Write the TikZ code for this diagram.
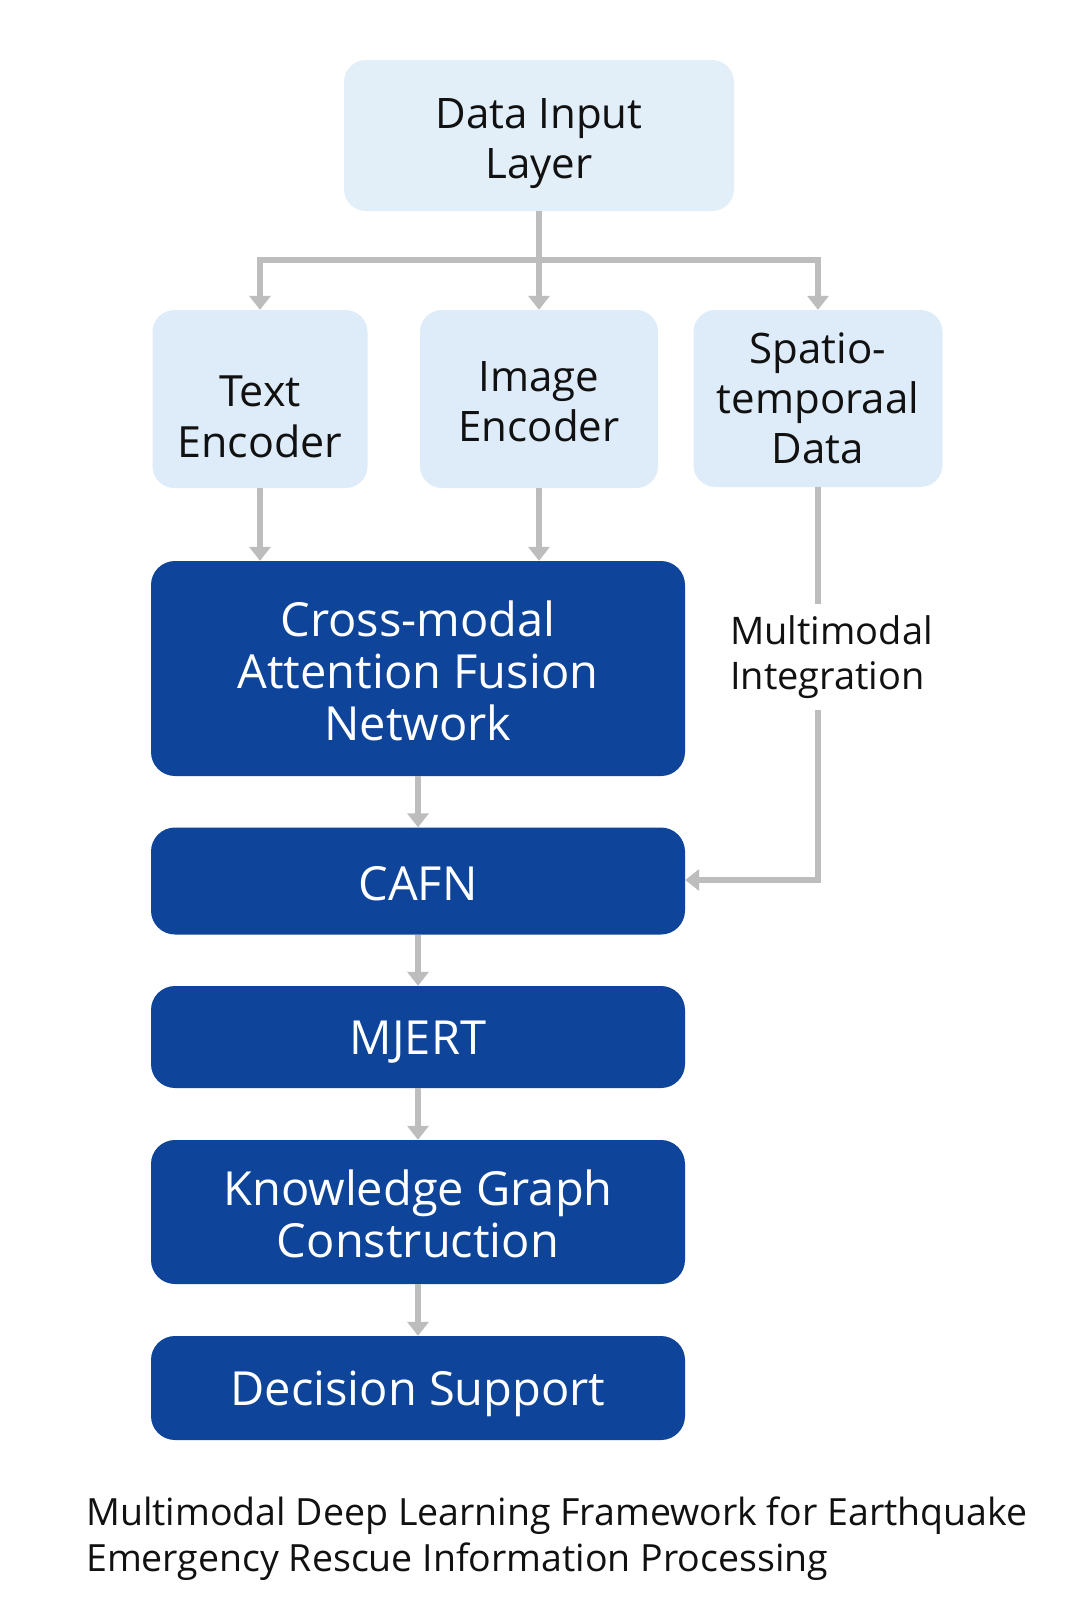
\documentclass[tikz,border=0pt]{standalone}
\usepackage{fontspec}
\setmainfont{Open Sans}
\usetikzlibrary{arrows.meta}
\definecolor{lightbox}{HTML}{DDECF8}
\definecolor{lighttop}{HTML}{E2EEF8}
\definecolor{darkbox}{HTML}{0E4499}
\definecolor{conn}{HTML}{BDBDBD}
\definecolor{ink}{HTML}{111111}
\tikzset{
  x=1pt, y=1pt,
  lbox/.style={fill=lightbox, draw=none, rounded corners=22pt, inner sep=0pt},
  ltext/.style={align=center, text=ink, inner sep=0pt, font=\fontsize{42}{50}\selectfont},
  dbox/.style={fill=darkbox, draw=none, rounded corners=24pt, inner sep=0pt, minimum width=534pt},
  dtext/.style={align=center, text=white, inner sep=0pt, font=\fontsize{47}{52}\selectfont},
  line/.style={draw=conn, line width=6pt},
  arr/.style={line, -{Triangle[width=21pt,length=14pt]}},
}
\begin{document}
\begin{tikzpicture}
\useasboundingbox[fill=white] (0,0) rectangle (1078,-1618);

\node[lbox, fill=lighttop, minimum width=390pt, minimum height=151pt] (din) at (539,-135.5) {};
\node[ltext, yshift=-8pt] (dint) at (din) {Data Input\\Layer};
\node[lbox, minimum width=215pt, minimum height=178pt] (te) at (260,-399) {};
\node[ltext, yshift=-18pt, font=\fontsize{43}{51}\selectfont] (tet) at (te) {Text\\Encoder};
\node[lbox, minimum width=238pt, minimum height=178pt] (ie) at (539,-399) {};
\node[ltext, yshift=-3pt] (iet) at (ie) {Image\\Encoder};
\node[lbox, minimum width=249pt, minimum height=177pt] (sp) at (818,-398.5) {};
\node[ltext] (spt) at (sp) {Spatio-\\temporaal\\Data};

\node[dbox, minimum height=215pt] (cm) at (418,-668.5) {};
\node[dtext, yshift=-2pt] (cmt) at (cm) {Cross-modal\\Attention Fusion\\Network};
\node[dbox, minimum height=107pt] (cafn) at (418,-881) {};
\node[dtext, yshift=-3pt] (cafnt) at (cafn) {CAFN};
\node[dbox, minimum height=102pt] (mj) at (418,-1037) {};
\node[dtext, yshift=-5pt] (mjt) at (mj) {MJERT};
\node[dbox, minimum height=144pt] (kg) at (418,-1212) {};
\node[dtext, yshift=-2pt] (kgt) at (kg) {Knowledge Graph\\Construction};
\node[dbox, minimum height=104pt] (ds) at (418,-1388) {};
\node[dtext, yshift=-6pt] (dst) at (ds) {Decision Support};

\node[anchor=west, align=left, inner sep=0pt, text=ink, font=\fontsize{38}{45}\selectfont] (mi) at (730,-657) {Multimodal\\Integration};

\node[anchor=north west, align=left, inner sep=0pt, text=ink, font=\fontsize{37.5}{46}\selectfont] (cap) at (86,-1497) {Multimodal Deep Learning Framework for Earthquake\\Emergency Rescue Information Processing};

\coordinate (br) at (539,-260);
\coordinate (g1) at (818,-604);
\coordinate (g2) at (818,-710);
\coordinate (bend) at (818,-880);

\draw[line] (din.south) -- (br);
\draw[arr] (br) -| (te.north);
\draw[arr] (br) -- (ie.north);
\draw[arr] (br) -| (sp.north);

\draw[arr] (te.south) -- (te.south |- cm.north);
\draw[arr] (ie.south) -- (ie.south |- cm.north);

\draw[line] (sp.south) -- (g1);
\draw[arr] (g2) -- (bend) -- (bend -| cafn.east);

\draw[arr] (cm.south) -- (cafn.north);
\draw[arr] (cafn.south) -- (mj.north);
\draw[arr] (mj.south) -- (kg.north);
\draw[arr] (kg.south) -- (ds.north);
\end{tikzpicture}
\end{document}
